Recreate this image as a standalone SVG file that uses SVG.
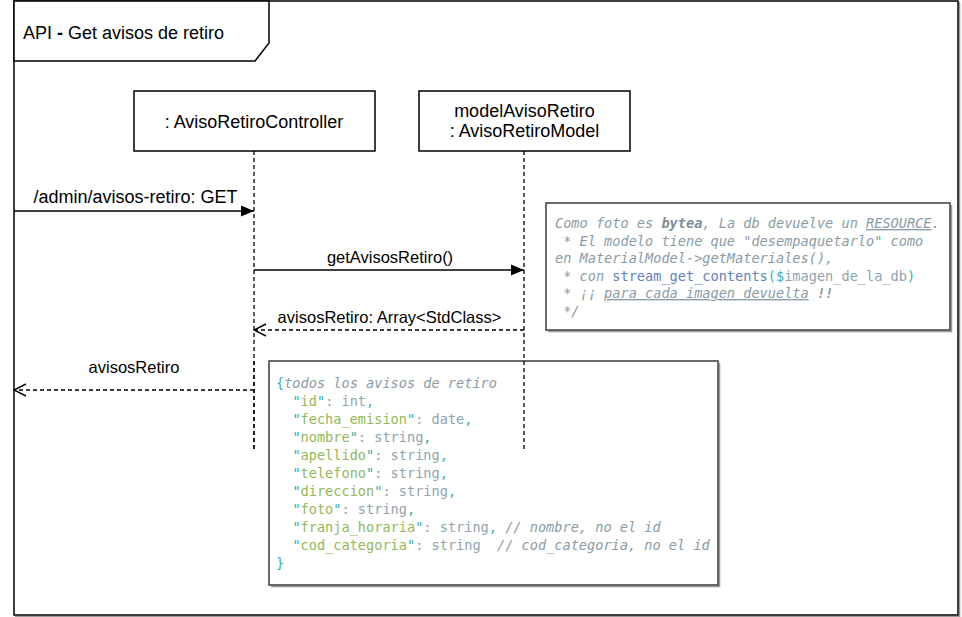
<svg xmlns="http://www.w3.org/2000/svg" width="962" height="617" viewBox="0 0 962 617">
  <defs>
    <marker id="fill-arrow" viewBox="0 0 13 12" refX="13" refY="6" markerWidth="13" markerHeight="12" markerUnits="userSpaceOnUse" orient="auto">
      <path d="M0,0.5 L13,6 L0,11.5 Z" fill="#000"/>
    </marker>
    <marker id="open-arrow" viewBox="0 0 14 14" refX="13" refY="7" markerWidth="14" markerHeight="14" markerUnits="userSpaceOnUse" orient="auto">
      <path d="M1,1 L13,7 L1,13" fill="none" stroke="#000" stroke-width="1.4"/>
    </marker>
  </defs>
  <style>
    .lbl { font-family: "Liberation Sans", Arial, sans-serif; font-size: 18px; fill: #000; }
    .sm { font-size: 16.5px; }
    .box { fill: #fff; stroke: #000; stroke-width: 1.5; }
    .note { fill: #fff; stroke: #3a3a3a; stroke-width: 1.5; }
    .shadow { fill: none; stroke: #999; stroke-width: 1.5; }
    .life { stroke: #000; stroke-width: 1.3; stroke-dasharray: 4 3; fill: none; }
    .msg { stroke: #000; stroke-width: 1.4; fill: none; }
    .ret { stroke: #000; stroke-width: 1.4; fill: none; stroke-dasharray: 4 3; }
    .code { font-family: "DejaVu Sans Mono", "Liberation Mono", monospace; font-size: 13.6px; white-space: pre; fill: #90a4ae; }
    .cm { font-style: italic; fill: #8a9ba5; }
    .str { fill: #91b859; }
    .pun { fill: #39adb5; }
    .fn { fill: #6182b8; }
  </style>

  <!-- frame -->
  <g id="frame">
    <path class="shadow" d="M15,616.5 H959.5 V2"/>
    <rect x="14" y="1" width="944" height="614" fill="none" stroke="#000" stroke-width="1.5"/>
    <path d="M14,1 H269 V43 L255,61 H14 Z" fill="#fff" stroke="#000" stroke-width="1.5"/>
    <text class="lbl" x="23" y="39">API <tspan font-weight="bold">-</tspan> Get avisos de retiro</text>
  </g>

  <!-- lifelines -->
  <g id="lifelines">
    <line class="life" x1="254" y1="151" x2="254" y2="450"/>
    <line class="life" x1="524" y1="151" x2="524" y2="450"/>
  </g>

  <g id="controller">
    <rect class="box" x="134" y="91" width="241" height="60"/>
    <text class="lbl" x="254" y="128" text-anchor="middle">: AvisoRetiroController</text>
  </g>

  <g id="model">
    <rect class="box" x="419" y="91" width="211" height="60"/>
    <text class="lbl" x="524.5" y="117" text-anchor="middle">modelAvisoRetiro</text>
    <text class="lbl" x="524.5" y="137" text-anchor="middle">: AvisoRetiroModel</text>
  </g>

  <!-- messages -->
  <g id="connectors">
    <line class="msg" x1="14" y1="211" x2="254" y2="211" marker-end="url(#fill-arrow)"/>
    <text class="lbl" x="135.5" y="203" text-anchor="middle">/admin/avisos-retiro: GET</text>

    <line class="msg" x1="254" y1="270" x2="524" y2="270" marker-end="url(#fill-arrow)"/>
    <text class="lbl sm" x="390" y="263" text-anchor="middle">getAvisosRetiro()</text>

    <line class="ret" x1="524" y1="330" x2="254" y2="330" marker-end="url(#open-arrow)"/>
    <text class="lbl sm" x="389.5" y="323" text-anchor="middle">avisosRetiro: Array&lt;StdClass&gt;</text>

    <line class="ret" x1="254" y1="390" x2="14" y2="390" marker-end="url(#open-arrow)"/>
    <text class="lbl sm" x="134" y="373" text-anchor="middle">avisosRetiro</text>
  </g>

  <!-- note: image storage comment -->
  <g id="note-resource">
    <path class="shadow" d="M548,331.5 H951.5 V205"/>
    <rect class="note" x="546" y="203" width="404" height="127"/>
    <text class="code" y="228">
      <tspan x="555" class="cm">Como foto es <tspan font-weight="bold" fill="#7c8e98">bytea</tspan>, La db devuelve un <tspan text-decoration="underline">RESOURCE</tspan>.</tspan>
    </text>
    <text class="code cm" x="555" y="245.5"> * El modelo tiene que "desempaquetarlo" como</text>
    <text class="code cm" x="555" y="263">en MaterialModel-&gt;getMateriales(),</text>
    <text class="code" x="555" y="280.5"><tspan class="cm"> * con </tspan><tspan class="fn">stream_get_contents</tspan><tspan class="pun">($</tspan>imagen_de_la_db<tspan class="pun">)</tspan></text>
    <text class="code cm" x="555" y="298"> * ¡¡ <tspan text-decoration="underline">para cada imagen devuelta</tspan> <tspan font-weight="bold">!!</tspan></text>
    <text class="code cm" x="555" y="316"> */</text>
  </g>

  <!-- note: response payload -->
  <g id="note-payload">
    <path class="shadow" d="M271,586.5 H719.5 V363"/>
    <rect class="note" x="269" y="361" width="449" height="224"/>
    <text class="code" x="276" y="388"><tspan class="pun">{</tspan><tspan class="cm">todos los avisos de retiro</tspan></text>
    <text class="code" x="276" y="406">  <tspan class="pun">"</tspan><tspan class="str">id</tspan><tspan class="pun">"</tspan>: int<tspan class="pun">,</tspan></text>
    <text class="code" x="276" y="424">  <tspan class="pun">"</tspan><tspan class="str">fecha_emision</tspan><tspan class="pun">"</tspan>: date<tspan class="pun">,</tspan></text>
    <text class="code" x="276" y="442">  <tspan class="pun">"</tspan><tspan class="str">nombre</tspan><tspan class="pun">"</tspan>: string<tspan class="pun">,</tspan></text>
    <text class="code" x="276" y="460">  <tspan class="pun">"</tspan><tspan class="str">apellido</tspan><tspan class="pun">"</tspan>: string<tspan class="pun">,</tspan></text>
    <text class="code" x="276" y="478">  <tspan class="pun">"</tspan><tspan class="str">telefono</tspan><tspan class="pun">"</tspan>: string<tspan class="pun">,</tspan></text>
    <text class="code" x="276" y="496">  <tspan class="pun">"</tspan><tspan class="str">direccion</tspan><tspan class="pun">"</tspan>: string<tspan class="pun">,</tspan></text>
    <text class="code" x="276" y="514">  <tspan class="pun">"</tspan><tspan class="str">foto</tspan><tspan class="pun">"</tspan>: string<tspan class="pun">,</tspan></text>
    <text class="code" x="276" y="532">  <tspan class="pun">"</tspan><tspan class="str">franja_horaria</tspan><tspan class="pun">"</tspan>: string<tspan class="pun">,</tspan> <tspan class="cm">// nombre, no el id</tspan></text>
    <text class="code" x="276" y="550">  <tspan class="pun">"</tspan><tspan class="str">cod_categoria</tspan><tspan class="pun">"</tspan>: string  <tspan class="cm">// cod_categoria, no el id</tspan></text>
    <text class="code" x="276" y="568"><tspan class="pun">}</tspan></text>
  </g>

  <!-- lifeline segments drawn over the payload note -->
  <g id="lifeline-overlay">
    <line class="life" x1="254" y1="361" x2="254" y2="450"/>
    <line class="life" x1="524" y1="361" x2="524" y2="450"/>
  </g>
</svg>
